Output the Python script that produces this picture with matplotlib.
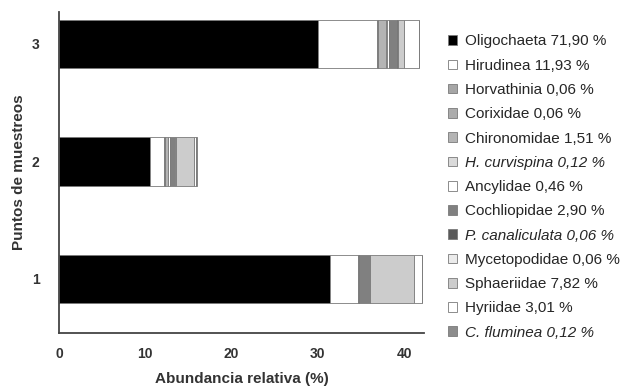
import matplotlib
matplotlib.use('Agg')
import matplotlib.pyplot as plt
import numpy as np

plt.rcParams['font.family'] = ['Liberation Sans', 'DejaVu Sans']

# Puntos de muestreo (eje y)
puntos = ['1', '2', '3']

# Taxones, porcentaje total y estilo en la leyenda
taxones = ['Oligochaeta', 'Hirudinea', 'Horvathinia', 'Corixidae', 'Chironomidae',
           'H. curvispina', 'Ancylidae', 'Cochliopidae', 'P. canaliculata',
           'Mycetopodidae', 'Sphaeriidae', 'Hyriidae', 'C. fluminea']
totales = ['71,90', '11,93', '0,06', '0,06', '1,51', '0,12', '0,46', '2,90',
           '0,06', '0,06', '7,82', '3,01', '0,12']
cursiva = [False, False, False, False, False, True, False, False, True,
           False, False, False, True]
colores = ['#000000', '#ffffff', '#a6a6a6', '#acacac', '#b4b4b4', '#dadada',
           '#ffffff', '#808080', '#5a5a5a', '#ebebeb', '#cccccc', '#ffffff', '#8c8c8c']

# Abundancia relativa (%) de cada taxón en los puntos 1, 2, 3
oligochaeta = [31.4, 10.5, 30.0]
hirudinea = [3.2, 1.7, 6.9]
horvathinia = [0.0, 0.03, 0.03]
corixidae = [0.0, 0.03, 0.03]
chironomidae = [0.2, 0.35, 0.95]
h_curvispina = [0.0, 0.06, 0.06]
ancylidae = [0.0, 0.2, 0.26]
cochliopidae = [1.3, 0.6, 1.0]
p_canaliculata = [0.0, 0.03, 0.03]
mycetopodidae = [0.0, 0.03, 0.03]
sphaeriidae = [5.0, 2.1, 0.7]
hyriidae = [1.0, 0.3, 1.7]
c_fluminea = [0.0, 0.06, 0.06]

series = [oligochaeta, hirudinea, horvathinia, corixidae, chironomidae, h_curvispina,
          ancylidae, cochliopidae, p_canaliculata, mycetopodidae, sphaeriidae,
          hyriidae, c_fluminea]

fig = plt.figure(figsize=(6.38, 3.92), dpi=100)
ax = fig.add_axes([0.0925, 0.1505, 0.572, 0.8185])

y = np.arange(1, len(puntos) + 1)
izq = np.zeros(len(puntos))
for nombre, tot, col, vals in zip(taxones, totales, colores, series):
    ax.barh(y, vals, left=izq, height=0.41, color=col, edgecolor='#7a7a7a',
            linewidth=0.6, label=f'{nombre} {tot} %')
    izq += np.array(vals)

ax.set_xlim(0, 42.3)
ax.set_ylim(0.54, 3.27)
ax.set_xticks([0, 10, 20, 30, 40])
ax.set_yticks(y)
ax.set_yticklabels(puntos)
ax.tick_params(length=0, labelsize=10, labelcolor='#333333')
ax.tick_params(axis='x', pad=10)
ax.tick_params(axis='y', pad=14)
for lab in ax.get_xticklabels() + ax.get_yticklabels():
    lab.set_fontweight('bold')

for s in ['top', 'right']:
    ax.spines[s].set_visible(False)
for s in ['left', 'bottom']:
    ax.spines[s].set_color('#444444')
    ax.spines[s].set_linewidth(1.3)

ax.set_xlabel('Abundancia relativa (%)', fontsize=11, fontweight='bold',
              color='#333333', labelpad=8)
ax.set_ylabel('Puntos de muestreos', fontsize=11, fontweight='bold',
              color='#333333', labelpad=4)

handles, labels = ax.get_legend_handles_labels()
leg = fig.legend(handles, labels, loc='upper left', bbox_to_anchor=(0.702, 0.912),
                 frameon=False, fontsize=11, handlelength=0.6, handleheight=0.6,
                 handletextpad=0.5, labelspacing=0.672, borderaxespad=0,
                 borderpad=0)
for txt, it in zip(leg.get_texts(), cursiva):
    txt.set_color('#262626')
    if it:
        txt.set_fontstyle('italic')

fig.savefig('out.png', dpi=100)
